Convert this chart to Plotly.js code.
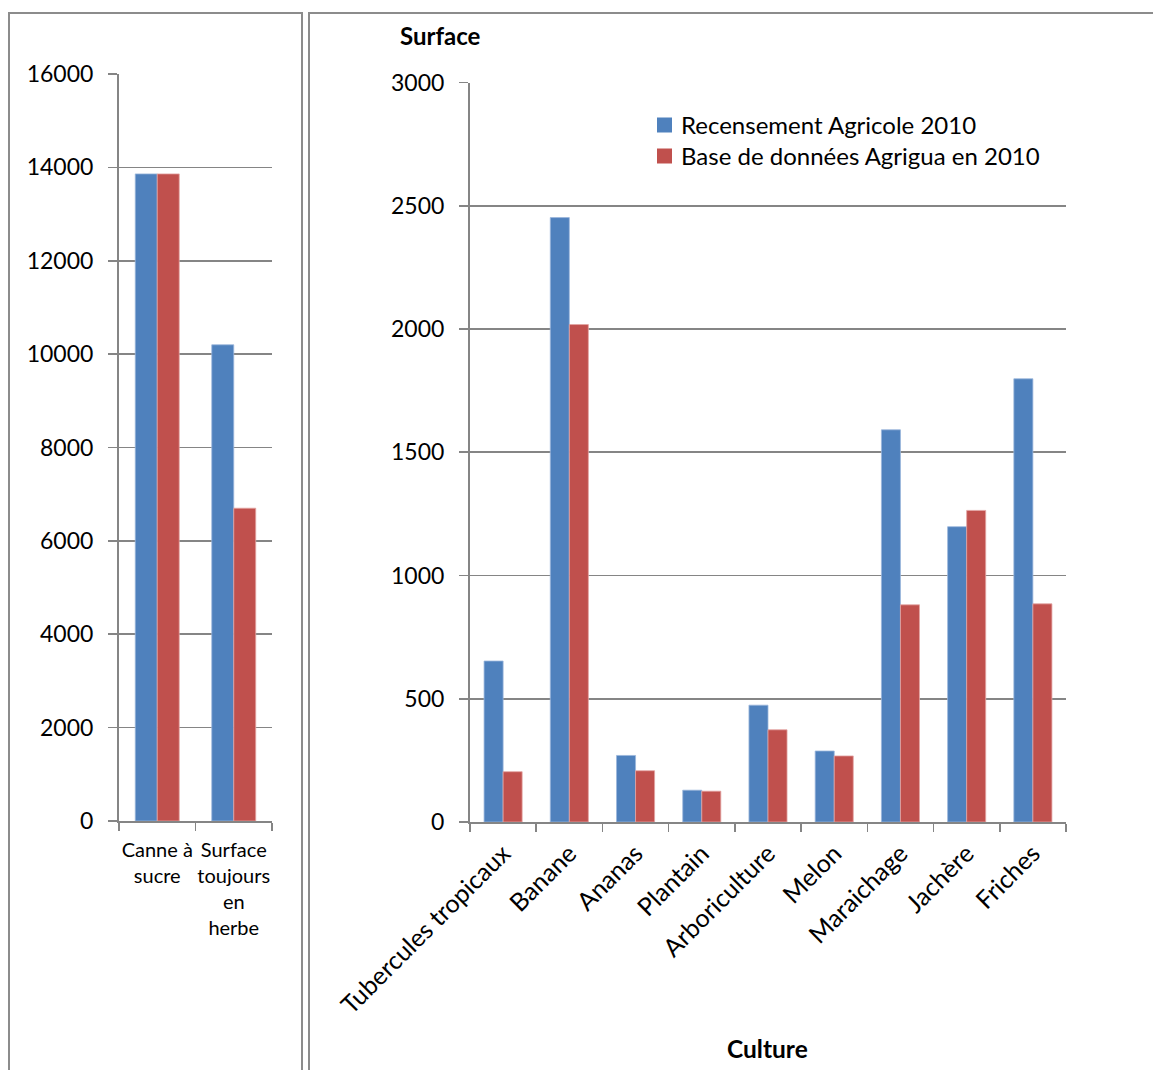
<!DOCTYPE html>
<html>
<head>
<meta charset="utf-8">
<script src="https://cdn.plot.ly/plotly-3.0.1.min.js"></script>
<style>
  html, body { margin: 0; padding: 0; background: #ffffff; }
  #chart { width: 1153px; height: 1070px; }
</style>
</head>
<body>
<div id="chart"></div>
<script>
// Grandes cultures (panneau de gauche)
const leftCategories = ['Canne à<br>sucre', 'Surface<br>toujours<br>en<br>herbe'];
const leftRecensement = [13860, 10200];
const leftAgrigua = [13860, 6700];

// Autres cultures (panneau de droite)
const rightCategories = ['Tubercules tropicaux', 'Banane', 'Ananas', 'Plantain', 'Arboriculture', 'Melon', 'Maraichage', 'Jachère', 'Friches'];
const rightRecensement = [653, 2452, 270, 129, 474, 288, 1591, 1198, 1798];
const rightAgrigua = [204, 2018, 208, 125, 374, 268, 881, 1264, 885];

const seriesNames = ['Recensement Agricole 2010', 'Base de données Agrigua en 2010'];
const seriesColors = ['#4f81bd', '#c0504d'];
const edgeColors = ['#9bb6dc', '#e3a5a3'];

const W = 1153, H = 1070;
const px = v => v / W;
const py = v => 1 - v / H;

const gridColor = '#858585';
const fontFamily = 'Lato, "Open Sans", sans-serif';

function barTrace(x, y, i, xa, ya) {
  return {
    type: 'bar', x: x, y: y, name: seriesNames[i],
    xaxis: xa, yaxis: ya, showlegend: false,
    marker: { color: seriesColors[i], line: { color: edgeColors[i], width: 0.8 } }
  };
}

const traces = [
  barTrace(leftCategories, leftRecensement, 0, 'x', 'y'),
  barTrace(leftCategories, leftAgrigua, 1, 'x', 'y'),
  barTrace(rightCategories, rightRecensement, 0, 'x2', 'y2'),
  barTrace(rightCategories, rightAgrigua, 1, 'x2', 'y2')
];

const yAxisCommon = {
  showgrid: true, gridcolor: gridColor, gridwidth: 1.6,
  showline: true, linecolor: gridColor, linewidth: 2,
  ticks: 'outside', ticklen: 9, tickcolor: gridColor, tickwidth: 1.6,
  tickfont: { family: fontFamily, size: 23, color: '#000000' },
  tickformat: 'd', ticklabelstandoff: 10,
  zeroline: false, fixedrange: true
};

const xAxisCommon = {
  type: 'category',
  showgrid: false, showline: true, linecolor: gridColor, linewidth: 2,
  ticks: 'outside', ticklen: 8, tickcolor: gridColor, tickwidth: 1.6,
  tickson: 'boundaries', zeroline: false, fixedrange: true
};

// Légende dessinée à la main : carré de couleur + libellé
const legendX = 657, legendRows = [125, 156], legendBox = 15;
const legendShapes = seriesNames.map((n, i) => ({
  type: 'rect', xref: 'paper', yref: 'paper',
  x0: px(legendX), x1: px(legendX + legendBox),
  y0: py(legendRows[i] + legendBox / 2), y1: py(legendRows[i] - legendBox / 2),
  line: { width: 0 }, fillcolor: seriesColors[i]
}));
const legendLabels = seriesNames.map((n, i) => ({
  text: n, xref: 'paper', yref: 'paper',
  x: px(legendX + legendBox + 7), y: py(legendRows[i]),
  xanchor: 'left', yanchor: 'middle', showarrow: false,
  font: { family: fontFamily, size: 24, color: '#000000' }
}));

const layout = {
  width: W, height: H,
  margin: { l: 0, r: 0, t: 0, b: 0 },
  paper_bgcolor: '#ffffff', plot_bgcolor: 'rgba(0,0,0,0)',
  barmode: 'group', bargap: 0.425, bargroupgap: 0,
  showlegend: false,
  font: { family: fontFamily, color: '#000000' },
  xaxis: Object.assign({}, xAxisCommon, {
    domain: [px(119), px(272)], anchor: 'y',
    tickfont: { family: fontFamily, size: 20, color: '#000000' },
    tickangle: 0, ticklabelstandoff: 10
  }),
  yaxis: Object.assign({}, yAxisCommon, {
    domain: [py(821), py(74)], anchor: 'x',
    range: [0, 16000], dtick: 2000
  }),
  xaxis2: Object.assign({}, xAxisCommon, {
    domain: [px(470), px(1066)], anchor: 'y2',
    tickfont: { family: fontFamily, size: 25, color: '#000000' },
    tickangle: -45, ticklabelstandoff: 5
  }),
  yaxis2: Object.assign({}, yAxisCommon, {
    domain: [py(822), py(82.5)], anchor: 'x2',
    range: [0, 3000], dtick: 500
  }),
  annotations: [
    {
      text: '<b>Surface</b>', xref: 'paper', yref: 'paper',
      x: px(440), y: py(36), xanchor: 'center', yanchor: 'middle',
      showarrow: false, font: { family: fontFamily, size: 24, color: '#000000' }
    },
    {
      text: '<b>Culture</b>', xref: 'paper', yref: 'paper',
      x: px(767), y: py(1048), xanchor: 'center', yanchor: 'middle',
      showarrow: false, font: { family: fontFamily, size: 24.5, color: '#000000' }
    }
  ].concat(legendLabels),
  shapes: [
    {
      type: 'rect', xref: 'paper', yref: 'paper', layer: 'below',
      x0: px(9), x1: px(302), y0: -0.02, y1: py(13),
      line: { color: '#8c8c8c', width: 2 }, fillcolor: 'rgba(0,0,0,0)'
    },
    {
      type: 'rect', xref: 'paper', yref: 'paper', layer: 'below',
      x0: px(309), x1: 1.02, y0: -0.02, y1: py(13),
      line: { color: '#8c8c8c', width: 2 }, fillcolor: 'rgba(0,0,0,0)'
    }
  ].concat(legendShapes)
};

Plotly.newPlot('chart', traces, layout, { displayModeBar: false, staticPlot: true });
</script>
</body>
</html>
